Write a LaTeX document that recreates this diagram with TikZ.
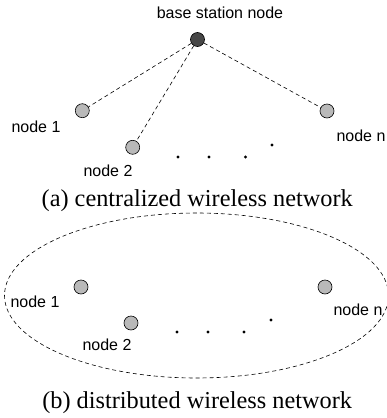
\documentclass[tikz,border=0pt]{standalone}
\usepackage{fontspec}
\setmainfont{Liberation Serif}
\newfontfamily\lblfont{Liberation Sans}
\usetikzlibrary{shapes.geometric}
\begin{document}
\begin{tikzpicture}[x=1pt,y=-1pt,
  station/.style={circle,draw=black,line width=0.6pt,minimum size=14pt,inner sep=0pt},
  plain/.style={station,fill=gray!55},
  basenode/.style={station,fill=black!72},
  dotn/.style={circle,fill=black,minimum size=3.2pt,inner sep=0pt},
  lbl/.style={font=\lblfont\fontsize{16}{19}\selectfont,inner sep=0pt},
  captext/.style={font=\fontsize{24.3}{28}\selectfont,inner sep=0pt,anchor=base},
  link/.style={dashed,dash pattern=on 4pt off 3pt,line width=0.6pt}]
\useasboundingbox (0,0) rectangle (386,418);
% (a)
\node[basenode]  (bs) at (197.5,39.5) {};
\node[lbl] (bsl) at (220,13) {base station node};
\node[plain] (a1) at (82.3,110.7) {};
\node[plain] (a2) at (132.7,147.3) {};
\node[plain] (an) at (327,111) {};
\node[lbl] (a1l) at (36,127) {node 1};
\node[lbl] (a2l) at (108,171) {node 2};
\node[lbl] (anl) at (361,135.5) {node n};
\node[dotn] (ad1) at (178,157) {};
\node[dotn] (ad2) at (209,157) {};
\node[dotn] (ad3) at (245.5,157) {};
\node[dotn] (ad4) at (272,145) {};
\draw[link] (bs) -- (a1);
\draw[link] (bs) -- (a2);
\draw[link] (bs) -- (an);
\node[captext] (capa) at (197.2,206) {(a) centralized wireless network};
% (b)
\node[draw,ellipse,dashed,dash pattern=on 4pt off 3pt,line width=0.6pt,minimum width=384pt,minimum height=165pt,inner sep=0pt] (ell) at (196.5,295.5) {};
\node[plain] (b1) at (81,287) {};
\node[plain] (b2) at (131,323) {};
\node[plain] (bn) at (325,287) {};
\node[lbl] (b1l) at (35,302) {node 1};
\node[lbl] (b2l) at (107,345) {node 2};
\node[lbl] (bnl) at (358,310) {node n};
\node[dotn] (bd1) at (177,332) {};
\node[dotn] (bd2) at (208,332) {};
\node[dotn] (bd3) at (244,332) {};
\node[dotn] (bd4) at (271,320) {};
\node[captext] (capb) at (197.2,408) {(b) distributed wireless network};
\end{tikzpicture}
\end{document}
